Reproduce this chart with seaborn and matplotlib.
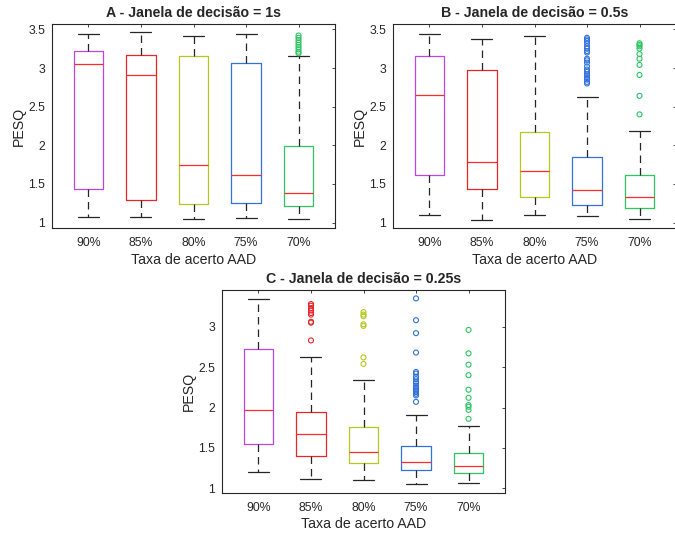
import numpy as np
import pandas as pd
import matplotlib
matplotlib.use("Agg")
import matplotlib.pyplot as plt
import matplotlib.ticker as mticker
import seaborn as sns

# -------------------------------
# Data (PESQ box summaries)
# -------------------------------
rates = ["90%", "85%", "80%", "75%", "70%"]
box_colors = ["#BF45E0", "#E8262A", "#B4C81E", "#3272DA", "#2EC463"]

# A - window 1s
a_lo = [1.07, 1.07, 1.05, 1.06, 1.05]
a_q1 = [1.43, 1.29, 1.24, 1.25, 1.21]
a_med = [3.05, 2.91, 1.75, 1.62, 1.39]
a_q3 = [3.22, 3.17, 3.16, 3.07, 1.99]
a_hi = [3.44, 3.46, 3.41, 3.44, 3.16]
a_out_70 = [3.19, 3.21, 3.24, 3.27, 3.30, 3.33, 3.36, 3.39, 3.42]

# B - window 0.5s
b_lo = [1.10, 1.04, 1.10, 1.08, 1.05]
b_q1 = [1.62, 1.44, 1.33, 1.23, 1.19]
b_med = [2.65, 1.79, 1.67, 1.42, 1.33]
b_q3 = [3.16, 2.98, 2.17, 1.85, 1.62]
b_hi = [3.44, 3.37, 3.42, 2.63, 2.18]
b_out_75 = [2.80, 2.82, 2.85, 2.87, 2.90, 2.92, 2.95, 2.98, 3.02, 3.07,
            3.10, 3.12, 3.20, 3.22, 3.25, 3.28, 3.32, 3.35, 3.37, 3.39]
b_out_70 = [2.40, 2.64, 2.91, 3.04, 3.12, 3.18, 3.25, 3.28, 3.30, 3.32]

# C - window 0.25s
c_lo = [1.20, 1.11, 1.10, 1.05, 1.07]
c_q1 = [1.55, 1.40, 1.31, 1.23, 1.19]
c_med = [1.97, 1.67, 1.45, 1.33, 1.27]
c_q3 = [2.73, 1.94, 1.76, 1.52, 1.44]
c_hi = [3.34, 2.62, 2.34, 1.91, 1.77]
c_out_85 = [2.83, 3.05, 3.06, 3.15, 3.17, 3.20, 3.23, 3.26, 3.28]
c_out_80 = [2.54, 2.62, 3.01, 3.03, 3.13, 3.15, 3.18]
c_out_75 = [2.07, 2.15, 2.17, 2.19, 2.21, 2.23, 2.25, 2.27, 2.30, 2.32,
            2.35, 2.38, 2.42, 2.44, 2.68, 2.92, 3.08, 3.35]
c_out_70 = [1.86, 1.97, 2.01, 2.03, 2.12, 2.22, 2.40, 2.53, 2.67, 2.96]


def summary_frame(lo, q1, med, q3, hi):
    # five points per box -> quartiles land exactly on q1/med/q3
    rows = []
    for i, r in enumerate(rates):
        for v in (lo[i], q1[i], med[i], q3[i], hi[i]):
            rows.append({"rate": r, "pesq": v})
    return pd.DataFrame(rows)


def outlier_frame(groups):
    rows = []
    for r, vals in groups.items():
        for v in vals:
            rows.append({"rate": r, "pesq": v})
    return pd.DataFrame(rows, columns=["rate", "pesq"])


panels = [
    ("A - Janela de decisão = 1s", summary_frame(a_lo, a_q1, a_med, a_q3, a_hi),
     outlier_frame({"70%": a_out_70}), (0.931, 3.569), [1, 1.5, 2, 2.5, 3, 3.5],
     [52, 24, 283, 204]),
    ("B - Janela de decisão = 0.5s", summary_frame(b_lo, b_q1, b_med, b_q3, b_hi),
     outlier_frame({"75%": b_out_75, "70%": b_out_70}), (0.931, 3.569),
     [1, 1.5, 2, 2.5, 3, 3.5], [393, 24, 283, 204]),
    ("C - Janela de decisão = 0.25s", summary_frame(c_lo, c_q1, c_med, c_q3, c_hi),
     outlier_frame({"85%": c_out_85, "80%": c_out_80, "75%": c_out_75, "70%": c_out_70}),
     (0.942, 3.454), [1, 1.5, 2, 2.5, 3], [222, 290, 283, 203]),
]

# -------------------------------
# Style
# -------------------------------
sns.set_style("white")
plt.rcParams["font.family"] = ["Liberation Sans", "DejaVu Sans"]
plt.rcParams["axes.edgecolor"] = "#262626"
plt.rcParams["xtick.color"] = "#262626"
plt.rcParams["ytick.color"] = "#262626"

W, H = 675, 535
fig = plt.figure(figsize=(W / 100, H / 100), dpi=100)
pal = dict(zip(rates, box_colors))

for title, df, outs, ylim, yticks, (x0, y0, w, h) in panels:
    ax = fig.add_axes([x0 / W, 1 - (y0 + h) / H, w / W, h / H])

    sns.boxplot(
        data=df, x="rate", y="pesq", hue="rate", order=rates, hue_order=rates,
        palette=pal, fill=False, width=0.57, whis=(0, 100), showfliers=False,
        legend=False, linewidth=0.9, ax=ax,
        medianprops=dict(color="#FF2A2A", linewidth=0.9),
        whiskerprops=dict(color="#262626", linestyle=(0, (6, 4)), linewidth=0.9),
        capprops=dict(color="#262626", linewidth=0.9),
        capwidths=0.4,
    )

    if len(outs):
        sns.stripplot(
            data=outs, x="rate", y="pesq", hue="rate", order=rates, hue_order=rates,
            palette=pal, jitter=False, size=3.6, legend=False, ax=ax,
        )
        for coll in ax.collections:
            fc = coll.get_facecolor()
            coll.set_edgecolor(fc)
            coll.set_facecolor("none")
            coll.set_linewidth(0.8)

    ax.set_xlim(-0.695, 4.695)
    ax.set_ylim(*ylim)
    ax.set_yticks(yticks)
    ax.yaxis.set_major_formatter(mticker.FormatStrFormatter("%g"))
    ax.set_title(title, fontsize=10.2, fontweight="bold", pad=5)
    ax.set_xlabel("Taxa de acerto AAD", fontsize=10.2, color="#262626", labelpad=2.5)
    ax.set_ylabel("PESQ", fontsize=10.2, color="#262626", labelpad=1.5)
    ax.tick_params(axis="both", direction="in", length=2.5, width=0.6,
                   labelsize=8.8, top=True, right=True, pad=5)
    ax.tick_params(axis="x", pad=6.5)
    for sp in ax.spines.values():
        sp.set_visible(True)
        sp.set_linewidth(0.8)

fig.savefig("out.png", dpi=100)
